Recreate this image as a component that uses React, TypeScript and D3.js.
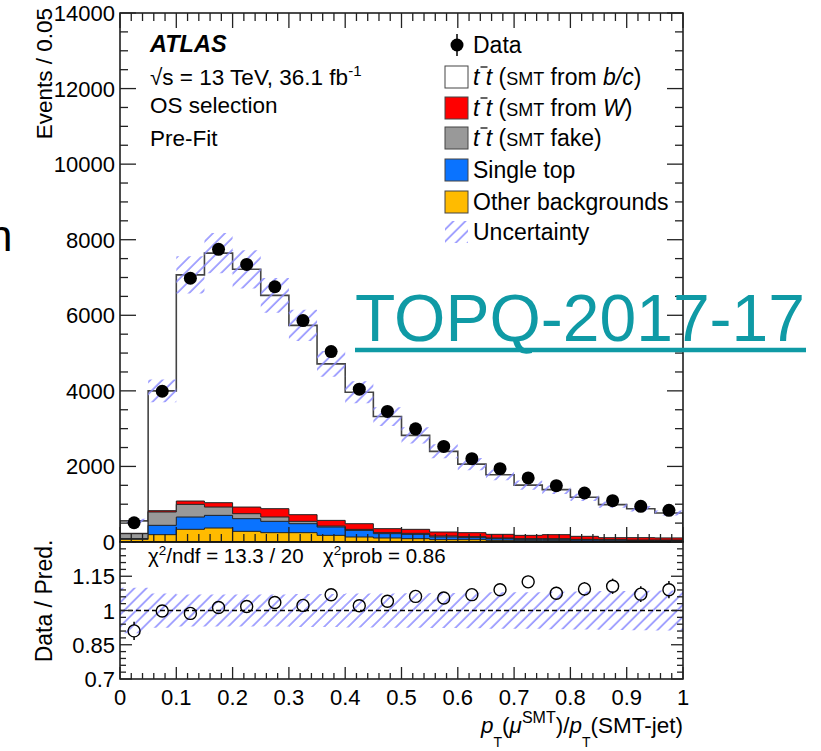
import React from 'react';
import * as d3 from 'd3';

// Bin edges of p_T(mu^SMT)/p_T(SMT-jet), 20 bins of width 0.05
const binEdges = d3.range(0, 21).map((i) => +(i * 0.05).toFixed(2));

// Observed events per bin
const dataCounts = [510, 3990, 6980, 7745, 7345, 6755, 5860, 5040, 4045, 3455, 2995, 2530, 2205, 1940, 1695, 1490, 1297, 1094, 943, 838];

// Predicted contributions per bin (stacked bottom to top)
const otherBkg = [70, 194, 335, 370, 282, 247, 247, 176, 132, 106, 88, 62, 62, 44, 35, 35, 26, 26, 22, 22];
const singleTop = [20, 247, 326, 335, 335, 300, 238, 220, 176, 115, 115, 70, 53, 44, 35, 35, 26, 22, 18, 18];
const ttFake = [130, 353, 335, 220, 132, 115, 62, 26, 26, 26, 26, 26, 26, 18, 18, 18, 18, 13, 13, 13];
const ttFromW = [10, 35, 88, 115, 176, 220, 176, 150, 150, 106, 106, 106, 106, 97, 88, 106, 80, 53, 62, 55];
const ttFromBC = [330, 3171, 5986, 6605, 6292, 5645, 5009, 4142, 3478, 2967, 2486, 2135, 1815, 1575, 1330, 1191, 1035, 875, 765, 660];

// Relative uncertainty on the prediction per bin
const relUnc = [0.1, 0.075, 0.07, 0.07, 0.07, 0.07, 0.072, 0.072, 0.074, 0.075, 0.076, 0.077, 0.078, 0.08, 0.08, 0.082, 0.083, 0.085, 0.086, 0.088];

const mainYTicks = [0, 2000, 4000, 6000, 8000, 10000, 12000, 14000];
const ratioYTicks = [0.7, 0.85, 1, 1.15];
const xTickLabels = ['0', '0.1', '0.2', '0.3', '0.4', '0.5', '0.6', '0.7', '0.8', '0.9', '1'];

const FONT = 'Liberation Sans, Arial, Helvetica, sans-serif';
const COLORS = {
  bc: '#ffffff',
  w: '#ff0000',
  fake: '#999999',
  single: '#0a73ff',
  other: '#ffbb00',
  hatch: '#8a8aff',
};

type StepPt = { x: number; v0: number; v1: number };

function stepPoints(lo: number[], hi: number[]): StepPt[] {
  const pts = lo.map((v, i) => ({ x: binEdges[i], v0: v, v1: hi[i] }));
  pts.push({ x: binEdges[binEdges.length - 1], v0: lo[lo.length - 1], v1: hi[hi.length - 1] });
  return pts;
}

export default function App() {
  const W = 821;
  const H = 751;
  const xL = 120;
  const xR = 683;
  const mainTop = 13;
  const mainBot = 542;
  const ratTop = 542;
  const ratBot = 679;

  const x = d3.scaleLinear().domain([0, 1]).range([xL, xR]);
  const y = d3.scaleLinear().domain([0, 14000]).range([mainBot, mainTop]);
  const yr = d3.scaleLinear().domain([0.7, 1.3]).range([ratBot, ratTop]);

  const nb = dataCounts.length;
  const zeros = new Array(nb).fill(0);
  const layers = [otherBkg, singleTop, ttFake, ttFromW, ttFromBC];
  const layerColors = [COLORS.other, COLORS.single, COLORS.fake, COLORS.w, COLORS.bc];
  const cumulative: number[][] = [];
  let run = zeros.slice();
  layers.forEach((l) => {
    run = run.map((v, i) => v + l[i]);
    cumulative.push(run.slice());
  });
  const total = cumulative[cumulative.length - 1];

  const areaMain = d3
    .area<StepPt>()
    .x((d) => x(d.x))
    .y0((d) => y(d.v0))
    .y1((d) => y(d.v1))
    .curve(d3.curveStepAfter);
  const areaRatio = d3
    .area<StepPt>()
    .x((d) => x(d.x))
    .y0((d) => yr(d.v0))
    .y1((d) => yr(d.v1))
    .curve(d3.curveStepAfter);

  const centers = dataCounts.map((_, i) => (binEdges[i] + binEdges[i + 1]) / 2);
  const ratio = dataCounts.map((d, i) => d / total[i]);
  const ratioErr = dataCounts.map((d, i) => Math.sqrt(d) / total[i]);

  const bandLo = total.map((t, i) => t * (1 - relUnc[i]));
  const bandHi = total.map((t, i) => t * (1 + relUnc[i]));
  const rBandLo = relUnc.map((u) => 1 - u);
  const rBandHi = relUnc.map((u) => 1 + u);

  const xMajor = d3.range(0, 11).map((i) => i / 10);
  const xMinor = d3.range(0, 51).map((i) => i / 50);
  const yMinor = d3.range(0, 14001, 500);
  const rMajor = [0.7, 0.85, 1, 1.15, 1.3];
  const rMinor = d3.range(0, 21).map((i) => 0.7 + i * 0.03);

  const tickStroke = '#222';
  const legendRows = [77, 108, 138, 170, 202, 232];
  const boxX = 445;
  const boxW = 23;
  const boxH = 22;
  const textX = 473;
  const legFont = 23;

  const ttbar = (xPos: number, yBase: number) => (
    <line x1={xPos + 7.5} x2={xPos + 14.5} y1={yBase - 18} y2={yBase - 18} stroke="#111" strokeWidth={1.3} />
  );

  return (
    <svg
      width={W}
      height={H}
      style={{ position: 'absolute', left: 0, top: 0, background: '#fff' }}
      fontFamily={FONT}
    >
      <defs>
        <pattern id="hatch" patternUnits="userSpaceOnUse" width={8.5} height={8.5} patternTransform="rotate(45)">
          <line x1={1} y1={0} x2={1} y2={8.5} stroke={COLORS.hatch} strokeWidth={1.5} />
        </pattern>
        <clipPath id="mainClip">
          <rect x={xL} y={mainTop} width={xR - xL} height={mainBot - mainTop} />
        </clipPath>
        <clipPath id="ratioClip">
          <rect x={xL} y={ratTop} width={xR - xL} height={ratBot - ratTop} />
        </clipPath>
      </defs>

      <rect x={0} y={0} width={W} height={H} fill="#fff" />

      {/* letter of a neighbouring word, partly outside the frame */}
      <text x={-12} y={251} fontSize={44} fill="#000">n</text>

      {/* ===== main panel ===== */}
      <g clipPath="url(#mainClip)">
        {cumulative
          .map((c, k) => ({ c, k }))
          .reverse()
          .map(({ c, k }) => (
            <path
              key={k}
              d={areaMain(stepPoints(zeros, c)) || ''}
              fill={layerColors[k]}
              stroke={k === cumulative.length - 1 ? '#444' : '#222'}
              strokeWidth={k === cumulative.length - 1 ? 1.6 : 1}
            />
          ))}
        <path d={areaMain(stepPoints(bandLo, bandHi)) || ''} fill="url(#hatch)" stroke="none" />
        {dataCounts.map((d, i) => (
          <g key={i}>
            <line x1={x(centers[i])} x2={x(centers[i])} y1={y(d - Math.sqrt(d))} y2={y(d + Math.sqrt(d))} stroke="#000" strokeWidth={1.5} />
            <circle cx={x(centers[i])} cy={y(d)} r={6.5} fill="#000" />
          </g>
        ))}
      </g>

      {/* main frame and ticks */}
      <rect x={xL} y={mainTop} width={xR - xL} height={mainBot - mainTop} fill="none" stroke="#111" strokeWidth={1.5} />
      {yMinor.map((v) => {
        const major = v % 2000 === 0;
        const len = major ? 16 : 8;
        return (
          <g key={`ym${v}`}>
            <line x1={xL} x2={xL + len} y1={y(v)} y2={y(v)} stroke={tickStroke} strokeWidth={1.3} />
            <line x1={xR} x2={xR - len} y1={y(v)} y2={y(v)} stroke={tickStroke} strokeWidth={1.3} />
          </g>
        );
      })}
      {xMinor.map((v, i) => {
        const major = i % 5 === 0;
        const len = major ? 15 : 8;
        return (
          <g key={`xm${i}`}>
            <line x1={x(v)} x2={x(v)} y1={mainBot} y2={mainBot - len} stroke={tickStroke} strokeWidth={1.3} />
            <line x1={x(v)} x2={x(v)} y1={mainTop} y2={mainTop + len} stroke={tickStroke} strokeWidth={1.3} />
          </g>
        );
      })}
      {mainYTicks.map((v) => (
        <text key={`yl${v}`} x={115} y={y(v) + 8} fontSize={22} textAnchor="end" fill="#000">
          {v}
        </text>
      ))}
      <text transform={`translate(52,8) rotate(-90)`} fontSize={22.5} textAnchor="end" fill="#000">
        Events / 0.05
      </text>

      {/* labels */}
      <text x={150} y={52} fontSize={23.5} fontWeight="bold" fontStyle="italic" fill="#000">ATLAS</text>
      <text x={150} y={85} fontSize={22.5} fill="#000">
        √s = 13 TeV, 36.1 fb<tspan fontSize={15} dy={-9}>-1</tspan>
      </text>
      <text x={150} y={113} fontSize={22.5} fill="#000">OS selection</text>
      <text x={150} y={146} fontSize={22.5} fill="#000">Pre-Fit</text>

      {/* legend */}
      <g>
        <line x1={457} x2={457} y1={34} y2={56} stroke="#000" strokeWidth={1.5} />
        <circle cx={457} cy={45} r={6.5} fill="#000" />
        <text x={textX} y={53} fontSize={legFont} fill="#000">Data</text>

        {[COLORS.bc, COLORS.w, COLORS.fake, COLORS.single, COLORS.other].map((c, i) => (
          <rect key={`lb${i}`} x={boxX} y={legendRows[i] - boxH / 2} width={boxW} height={boxH} fill={c} stroke="#444" strokeWidth={1} />
        ))}
        <rect x={boxX} y={legendRows[5] - boxH / 2} width={boxW} height={boxH} fill="url(#hatch)" />

        {[
          [' (', 'SMT', ' from ', 'b/c', ')'],
          [' (', 'SMT', ' from ', 'W', ')'],
          [' (', 'SMT', ' fake)', '', ''],
        ].map((parts, i) => (
          <g key={`tt${i}`}>
            <text x={textX} y={legendRows[i] + 8} fontSize={legFont} fill="#000">
              <tspan fontStyle="italic">t t</tspan>
              <tspan>{parts[0]}</tspan>
              <tspan fontSize={18}>{parts[1]}</tspan>
              <tspan>{parts[2]}</tspan>
              {parts[3] ? <tspan fontStyle="italic">{parts[3]}</tspan> : null}
              {parts[4] ? <tspan>{parts[4]}</tspan> : null}
            </text>
            {ttbar(textX, legendRows[i] + 8)}
          </g>
        ))}
        <text x={textX} y={legendRows[3] + 8} fontSize={legFont} fill="#000">Single top</text>
        <text x={textX} y={legendRows[4] + 8} fontSize={legFont} fill="#000">Other backgrounds</text>
        <text x={textX} y={legendRows[5] + 8} fontSize={legFont} fill="#000">Uncertainty</text>
      </g>

      {/* ===== ratio panel ===== */}
      <g clipPath="url(#ratioClip)">
        <path d={areaRatio(stepPoints(rBandLo, rBandHi)) || ''} fill="url(#hatch)" stroke="none" />
        <line x1={xL} x2={xR} y1={yr(1)} y2={yr(1)} stroke="#000" strokeWidth={1.5} strokeDasharray="5,3" />
        {ratio.map((r, i) => {
          const cx = x(centers[i]);
          const cy = yr(r);
          const e = yr(r - ratioErr[i]) - cy;
          const rad = 6;
          return (
            <g key={`r${i}`}>
              {e > rad ? (
                <>
                  <line x1={cx} x2={cx} y1={cy - e} y2={cy - rad} stroke="#000" strokeWidth={1.5} />
                  <line x1={cx} x2={cx} y1={cy + rad} y2={cy + e} stroke="#000" strokeWidth={1.5} />
                </>
              ) : null}
              <circle cx={cx} cy={cy} r={rad} fill="none" stroke="#000" strokeWidth={1.4} />
            </g>
          );
        })}
      </g>
      <rect x={xL} y={ratTop} width={xR - xL} height={ratBot - ratTop} fill="none" stroke="#111" strokeWidth={1.5} />
      {rMinor.map((v, i) => {
        const major = rMajor.some((m) => Math.abs(m - v) < 1e-6);
        const len = major ? 12 : 6;
        return (
          <g key={`rm${i}`}>
            <line x1={xL} x2={xL + len} y1={yr(v)} y2={yr(v)} stroke={tickStroke} strokeWidth={1.3} />
            <line x1={xR} x2={xR - len} y1={yr(v)} y2={yr(v)} stroke={tickStroke} strokeWidth={1.3} />
          </g>
        );
      })}
      {xMinor.map((v, i) => {
        const major = i % 5 === 0;
        const len = major ? 12 : 6;
        return <line key={`rx${i}`} x1={x(v)} x2={x(v)} y1={ratBot} y2={ratBot - len} stroke={tickStroke} strokeWidth={1.3} />;
      })}
      {ratioYTicks.map((v) => (
        <text key={`ry${v}`} x={115} y={yr(v) + 8} fontSize={22} textAnchor="end" fill="#000">
          {v}
        </text>
      ))}
      {xMajor.map((v, i) => (
        <text key={`xl${i}`} x={x(v)} y={705} fontSize={22} textAnchor="middle" fill="#000">
          {xTickLabels[i]}
        </text>
      ))}
      <text transform={`translate(52,601) rotate(-90)`} fontSize={23} textAnchor="middle" fill="#000">
        Data / Pred.
      </text>
      <text x={148} y={563} fontSize={20.5} fill="#000">
        χ<tspan fontSize={13.5} dy={-8}>2</tspan>
        <tspan dy={8}>/ndf = 13.3 / 20</tspan>
      </text>
      <text x={323} y={563} fontSize={20.5} fill="#000">
        χ<tspan fontSize={13.5} dy={-8}>2</tspan>
        <tspan dy={8}>prob = 0.86</tspan>
      </text>

      {/* x-axis title */}
      <text x={683} y={733} fontSize={22.5} textAnchor="end" fill="#000">
        <tspan fontStyle="italic">p</tspan>
        <tspan fontSize={14} dy={14}>T</tspan>
        <tspan dy={-14}>(</tspan>
        <tspan fontStyle="italic">μ</tspan>
        <tspan fontSize={16} dy={-10}>SMT</tspan>
        <tspan dy={10}>)/</tspan>
        <tspan fontStyle="italic">p</tspan>
        <tspan fontSize={14} dy={14}>T</tspan>
        <tspan dy={-14}>(SMT-jet)</tspan>
      </text>

      {/* publication reference link */}
      <text x={355} y={341} fontSize={66} fill="#0f9aa5">TOPQ-2017-17</text>
      <line x1={355} x2={806} y1={350} y2={350} stroke="#0f9aa5" strokeWidth={4.5} />
    </svg>
  );
}
